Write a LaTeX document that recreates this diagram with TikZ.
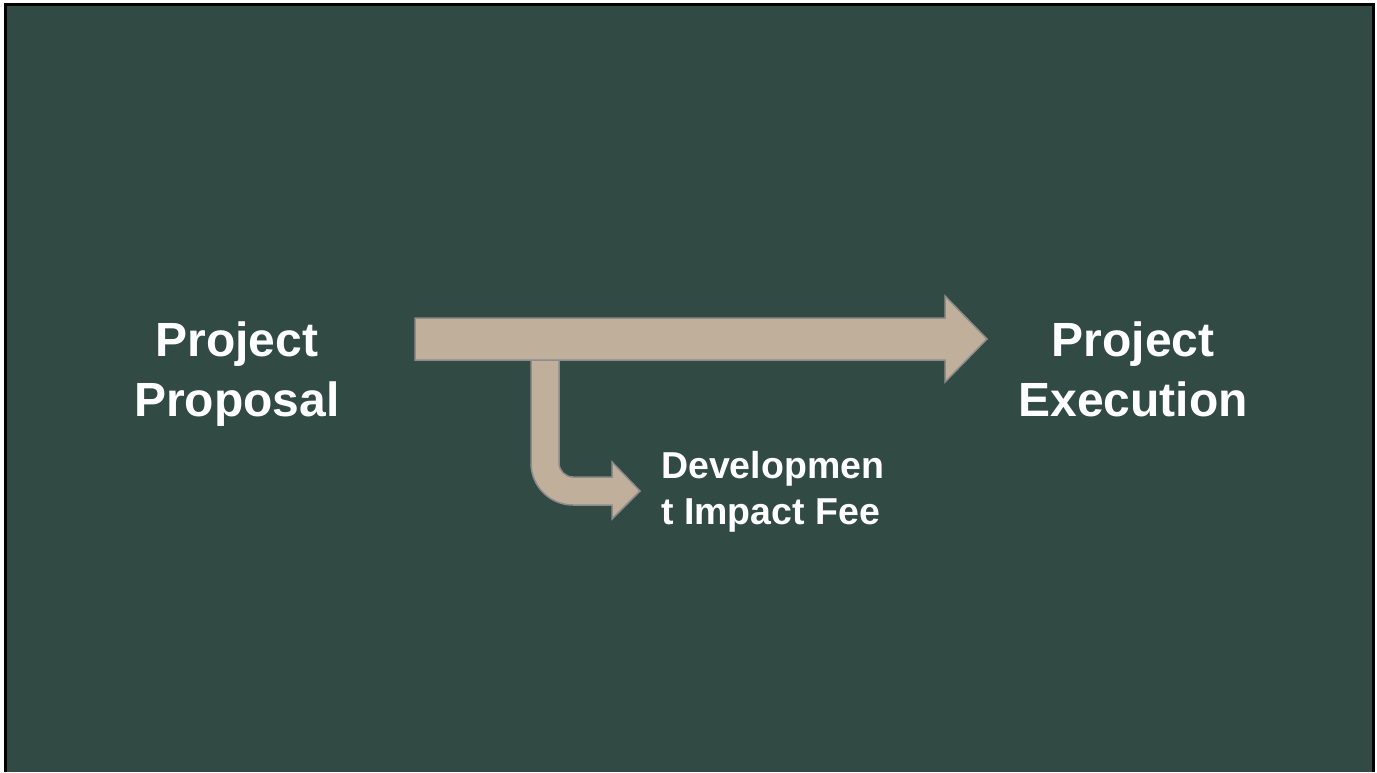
\documentclass[tikz,border=0pt]{standalone}
\usepackage{fontspec}
\setmainfont{Liberation Sans}
\definecolor{slate}{HTML}{314A44}
\definecolor{sand}{HTML}{C0AF9B}
\definecolor{rim}{HTML}{8E8B8C}
\tikzset{
  stage/.style={text=white, font=\fontsize{48}{60}\selectfont\bfseries, align=center},
  side/.style={text=white, font=\fontsize{37.5}{46}\selectfont\bfseries, align=left, anchor=north west},
  block/.style={fill=sand, draw=rim, line width=1.5pt, line join=miter}
}
\begin{document}
\begin{tikzpicture}[x=1pt,y=-1pt]
  \useasboundingbox (0,0) rectangle (1377,772);
  \fill [white] (0,0) rectangle (1377,772);
  \fill [black] (4,3) rectangle (1375,772);
  \fill [slate] (7,6) rectangle (1372,772);

  % bent arrow down to the fee
  \draw [block] (531,358) -- (531,463) .. controls (531,486.2) and (549.8,505) .. (573,505)
    -- (612,505) -- (612,519) -- (640,491) -- (612,462) -- (612,477) -- (573,477)
    .. controls (565.3,477) and (559,470.7) .. (559,463) -- (559,358);

  % main arrow
  \draw [block] (415,318) -- (945,318) -- (945,296) -- (987,339) -- (945,382)
    -- (945,360) -- (415,360) -- cycle;

  \node [stage] (proposal) at (237,374) {Project\\Proposal};
  \node [stage] (execution) at (1133,369) {Project\\Execution};
  \node [side, inner sep=0pt] (fee) at (661,451) {Developmen\\t Impact Fee};
\end{tikzpicture}
\end{document}
